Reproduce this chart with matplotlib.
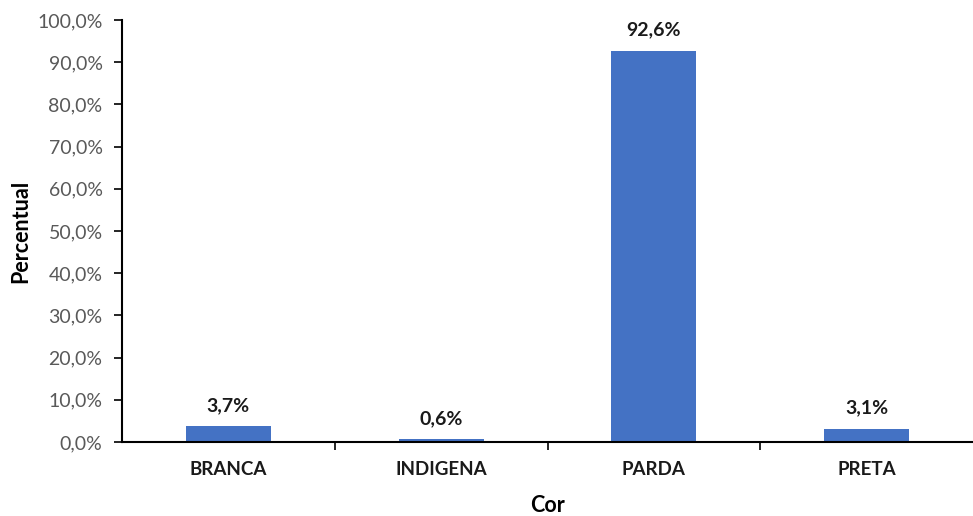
import matplotlib
matplotlib.use("Agg")
import matplotlib.pyplot as plt
from matplotlib.ticker import FuncFormatter, FixedLocator

categories = ["BRANCA", "INDIGENA", "PARDA", "PRETA"]
values = [3.7, 0.6, 92.6, 3.1]
yticks = [0, 10, 20, 30, 40, 50, 60, 70, 80, 90, 100]

plt.rcParams["font.family"] = ["Lato", "DejaVu Sans"]

fig = plt.figure(figsize=(9.73, 5.16), dpi=100)
ax = fig.add_axes([122 / 973, 1 - 442 / 516, 1 - 122 / 973, (442 - 20) / 516])

x = list(range(len(categories)))
ax.bar(x, values, width=0.4, color="#4472C4", zorder=2)

for xi, v in zip(x, values):
    ax.annotate(f"{v:.1f}%".replace(".", ","), (xi, v), xytext=(0, 9),
                textcoords="offset points", ha="center", va="bottom",
                fontsize=14, fontweight="bold", color="#1a1a1a")

ax.set_xlim(-0.5, len(categories) - 0.5)
ax.set_ylim(0, 100)
ax.set_yticks(yticks)
ax.yaxis.set_major_formatter(FuncFormatter(lambda v, p: f"{v:.1f}%".replace(".", ",")))

ax.set_xticks(x)
ax.set_xticklabels(categories, fontsize=13.5, fontweight="bold", color="#1a1a1a")
ax.xaxis.set_minor_locator(FixedLocator([i + 0.5 for i in range(len(categories) - 1)]))
ax.tick_params(axis="x", which="major", length=0, pad=14)
ax.tick_params(axis="x", which="minor", length=6, width=1.2, color="black")
ax.tick_params(axis="y", length=6, width=1.2, color="black", labelsize=14,
               labelcolor="#595959", pad=8)

for side in ("top", "right"):
    ax.spines[side].set_visible(False)
for side in ("left", "bottom"):
    ax.spines[side].set_linewidth(1.5)
    ax.spines[side].set_color("black")

ax.set_ylabel("Percentual", fontsize=15.5, fontweight="bold", labelpad=4)
ax.set_xlabel("Cor", fontsize=15.5, fontweight="bold", labelpad=12)

fig.savefig("out.png", dpi=100, facecolor="white")
